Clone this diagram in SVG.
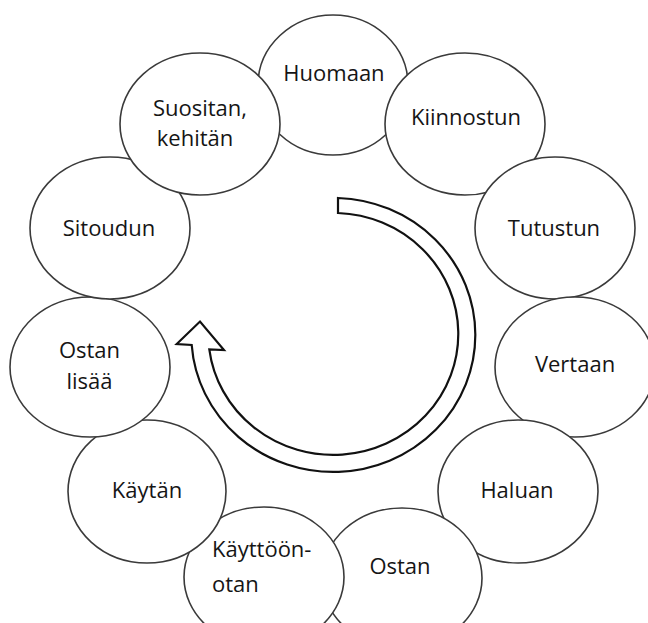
<svg xmlns="http://www.w3.org/2000/svg" width="648" height="623" viewBox="0 0 648 623">
<style>
.node ellipse{fill:#fff;stroke:#3a3a3a;stroke-width:1.6}
.node text{font-family:"Open Sans","Liberation Sans",sans-serif;font-size:22px;fill:#151515;text-anchor:middle}
.arrow{fill:#fff;stroke:#111;stroke-width:2.2;stroke-linejoin:miter}
</style>
<rect width="648" height="623" fill="#fff"/>
<g id="n-huomaan" class="node"><ellipse cx="333" cy="85" rx="75" ry="70"/><text x="334" y="81">Huomaan</text></g>
<g id="n-kiinnostun" class="node"><ellipse cx="465" cy="124" rx="80" ry="71"/><text x="466" y="124.5">Kiinnostun</text></g>
<g id="n-tutustun" class="node"><ellipse cx="555" cy="228" rx="80" ry="71"/><text x="554" y="235.5">Tutustun</text></g>
<g id="n-vertaan" class="node"><ellipse cx="575" cy="367" rx="80" ry="70"/><text x="575" y="371.5">Vertaan</text></g>
<g id="n-haluan" class="node"><ellipse cx="518" cy="491.5" rx="80" ry="71.5"/><text x="517" y="498">Haluan</text></g>
<g id="n-ostan" class="node"><ellipse cx="402" cy="578" rx="80" ry="70"/><text x="400" y="573.5">Ostan</text></g>
<g id="n-kayttoonotan" class="node"><ellipse cx="264" cy="577" rx="80" ry="70"/><text x="212" y="557" style="text-anchor:start">Käyttöön-</text><text x="212" y="591.5" style="text-anchor:start">otan</text></g>
<g id="n-kaytan" class="node"><ellipse cx="147" cy="491.5" rx="79" ry="71.5"/><text x="147" y="498">Käytän</text></g>
<g id="n-ostanlisaa" class="node"><ellipse cx="90" cy="367" rx="80" ry="70"/><text x="89.5" y="358">Ostan</text><text x="89.5" y="389">lisää</text></g>
<g id="n-sitoudun" class="node"><ellipse cx="110" cy="228" rx="80" ry="71"/><text x="109" y="235.5">Sitoudun</text></g>
<g id="n-suositan" class="node"><ellipse cx="200" cy="124" rx="80" ry="71"/><text x="200" y="115.5">Suositan,</text><text x="195" y="145.5">kehitän</text></g>
<g id="connectors">
<path class="arrow" d="M338 198 A142 137 0 1 1 191.7 345 L176.7 344 L200 321.5 L224 350 L209.3 349.3 A125 121 0 1 0 338 213 Z"/>
</g>
</svg>
